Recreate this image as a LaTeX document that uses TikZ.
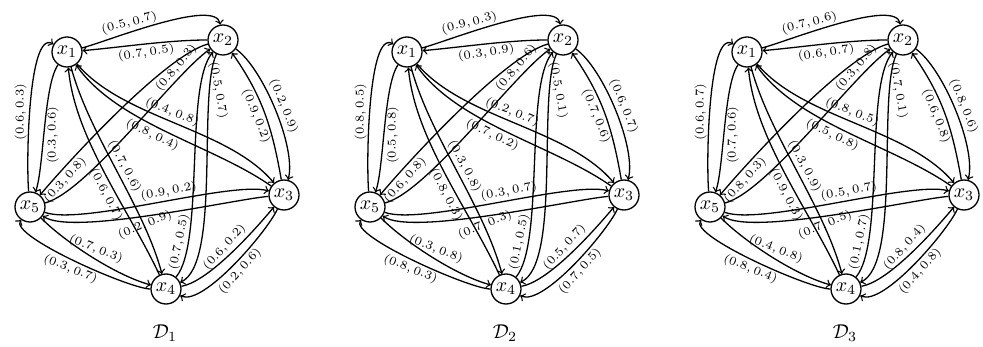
\documentclass[tikz,border=0pt]{standalone}
\usepackage{amsmath}
\tikzset{
  vertex/.style={circle, draw, line width=0.65pt, minimum size=15pt, inner sep=0pt},
  arc/.style={->, line width=0.65pt},
  lab/.style={font=\fontsize{6}{7}\selectfont, inner sep=1.2pt},
  % sides of the pentagon
  e12/.style={out=15, in=100, looseness=0.5},    p12/.style={pos=0.35, rotate=15, anchor=south},
  e21/.style={out=180, in=5, looseness=0.8},     p21/.style={pos=0.5, rotate=8, anchor=north},
  e23/.style={out=-35, in=75, looseness=0.6},    p23/.style={pos=0.5, rotate=-68, anchor=south},
  e32/.style={out=100, in=-55},                  p32/.style={pos=0.5, rotate=-68, anchor=north},
  e34/.style={out=-115, in=-25, looseness=0.5},  p34/.style={pos=0.5, rotate=48, anchor=north},
  e43/.style={out=10, in=230, looseness=0.6},    p43/.style={pos=0.5, rotate=48, anchor=south},
  e45/.style={out=180, in=235, looseness=0.35},  p45/.style={pos=0.5, rotate=-22, anchor=north},
  e54/.style={out=-45, in=165, looseness=0.7},   p54/.style={pos=0.5, rotate=-22, anchor=south},
  e51/.style={out=95, in=150, looseness=0.5},    p51/.style={pos=0.45, rotate=90, anchor=south},
  e15/.style={out=235, in=70, looseness=0.5},    p15/.style={pos=0.55, rotate=90, anchor=north},
  % diagonals
  e13/.style={out=-50, in=130, looseness=0.8},   p13/.style={pos=0.47, rotate=-22, anchor=south},
  e31/.style={out=145, in=-55, looseness=0.8},   p31/.style={pos=0.55, rotate=-25, anchor=north},
  e14/.style={out=-75, in=105, looseness=0.8},   p14/.style={pos=0.5, rotate=-62, anchor=south},
  e41/.style={out=115, in=-85, looseness=0.8},   p41/.style={pos=0.42, rotate=-62, anchor=north},
  e24/.style={out=-115, in=25, looseness=0.5},   p24/.style={pos=0.2, rotate=-80, anchor=south},
  e42/.style={out=50, in=-130, looseness=0.5},   p42/.style={pos=0.2, rotate=78, anchor=south},
  e25/.style={out=195, in=50, looseness=0.5},    p25/.style={pos=0.84, rotate=48, anchor=north},
  e52/.style={out=15, in=215, looseness=0.5},    p52/.style={pos=0.8, rotate=50, anchor=south},
  e53/.style={out=-20, in=165, looseness=0.45},  p53/.style={pos=0.55, rotate=10, anchor=south},
  e35/.style={out=185, in=-35, looseness=0.4},   p35/.style={pos=0.54, rotate=22, anchor=north}
}
% #1 shift, #2 index, #3 edges a/b/label
\newcommand{\pentagraph}[3]{%
  \begin{scope}[shift={(#1,0)}]
    \foreach \i/\px/\py in {1/67/52, 2/223/40, 3/284/195, 4/166/289, 5/30/207}
      \node[vertex] (x\i) at (\px,-\py) {$x_{\i}$};
    \node (d#2) at (165,-333) {$\mathcal{D}_{#2}$};
    \foreach \a/\b/\val in {#3}
      \draw[arc] (x\a) to[e\a\b] node[lab, p\a\b] {$\val$} (x\b);
  \end{scope}}

\begin{document}
\begin{tikzpicture}[x=0.5pt, y=0.5pt]
\useasboundingbox (0,0) rectangle (983,-347);

\pentagraph{0}{1}{{1/2/(0.5,0.7)}, {2/1/(0.7,0.5)}, {2/3/(0.2,0.9)}, {3/2/(0.9,0.2)},
  {3/4/(0.2,0.6)}, {4/3/(0.6,0.2)}, {4/5/(0.3,0.7)}, {5/4/(0.7,0.3)},
  {5/1/(0.6,0.3)}, {1/5/(0.3,0.6)}, {1/3/(0.4,0.8)}, {3/1/(0.8,0.4)},
  {1/4/(0.7,0.6)}, {4/1/(0.6,0.7)}, {2/4/(0.5,0.7)}, {4/2/(0.7,0.5)},
  {2/5/(0.3,0.8)}, {5/2/(0.8,0.3)}, {5/3/(0.9,0.2)}, {3/5/(0.2,0.9)}}

\pentagraph{340}{2}{{1/2/(0.9,0.3)}, {2/1/(0.3,0.9)}, {2/3/(0.6,0.7)}, {3/2/(0.7,0.6)},
  {3/4/(0.7,0.5)}, {4/3/(0.5,0.7)}, {4/5/(0.8,0.3)}, {5/4/(0.3,0.8)},
  {5/1/(0.8,0.5)}, {1/5/(0.5,0.8)}, {1/3/(0.2,0.7)}, {3/1/(0.7,0.2)},
  {1/4/(0.3,0.8)}, {4/1/(0.8,0.3)}, {2/4/(0.5,0.1)}, {4/2/(0.1,0.5)},
  {2/5/(0.6,0.8)}, {5/2/(0.8,0.6)}, {5/3/(0.3,0.7)}, {3/5/(0.7,0.3)}}

\pentagraph{680}{3}{{1/2/(0.7,0.6)}, {2/1/(0.6,0.7)}, {2/3/(0.8,0.6)}, {3/2/(0.6,0.8)},
  {3/4/(0.4,0.8)}, {4/3/(0.8,0.4)}, {4/5/(0.8,0.4)}, {5/4/(0.4,0.8)},
  {5/1/(0.6,0.7)}, {1/5/(0.7,0.6)}, {1/3/(0.8,0.5)}, {3/1/(0.5,0.8)},
  {1/4/(0.3,0.9)}, {4/1/(0.9,0.3)}, {2/4/(0.7,0.1)}, {4/2/(0.1,0.7)},
  {2/5/(0.8,0.3)}, {5/2/(0.3,0.8)}, {5/3/(0.5,0.7)}, {3/5/(0.7,0.5)}}
\end{tikzpicture}
\end{document}
